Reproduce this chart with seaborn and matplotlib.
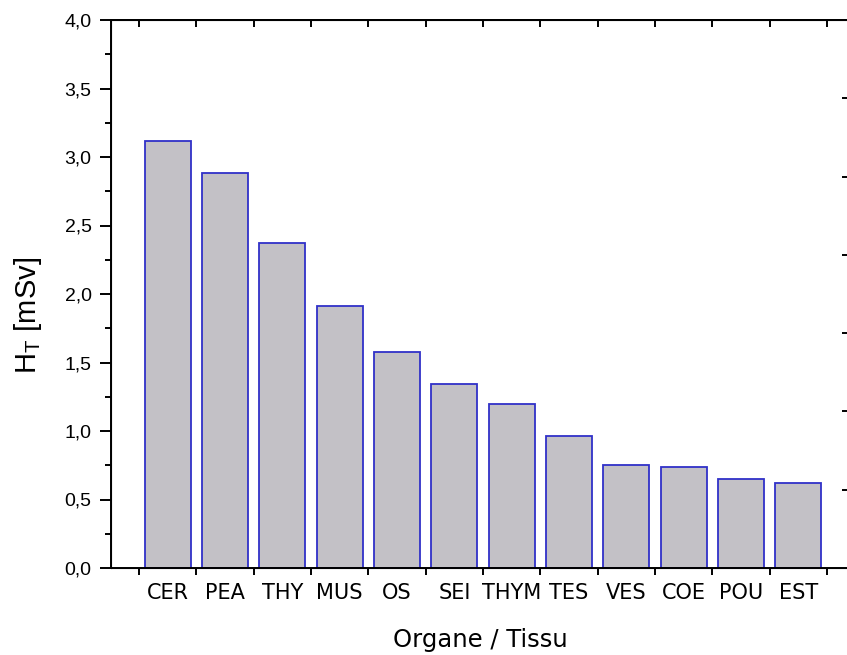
import matplotlib
matplotlib.use("Agg")
import matplotlib.pyplot as plt
import seaborn as sns
import pandas as pd
from matplotlib.ticker import FixedLocator, FuncFormatter

# Equivalent dose per organ / tissue
organs = ["CER", "PEA", "THY", "MUS", "OS", "SEI", "THYM", "TES", "VES", "COE", "POU", "EST"]
dose_msv = [3.12, 2.88, 2.37, 1.91, 1.58, 1.34, 1.20, 0.96, 0.75, 0.74, 0.65, 0.62]

df = pd.DataFrame({"organe": organs, "dose": dose_msv})

sns.set_style("ticks")
plt.rcParams["font.family"] = ["DejaVu Sans"]
plt.rcParams.update({
    "text.color": "black",
    "axes.labelcolor": "black",
    "xtick.color": "black",
    "ytick.color": "black",
    "axes.edgecolor": "black",
})

fig = plt.figure(figsize=(8.47, 6.55), dpi=100)
ax = fig.add_axes([111 / 847, 1 - 568 / 655, (849 - 111) / 847, (568 - 20) / 655])

sns.barplot(data=df, x="organe", y="dose", ax=ax, color="#C3C1C6",
            saturation=1, width=0.8, edgecolor="#3030C8", linewidth=1.3)

n = len(organs)
edges = [i - 0.5 for i in range(n + 1)]
ax.set_xlim(-0.99, n - 0.5 + 22 / 57.33)
ax.set_ylim(0, 4.0)

for sp in ax.spines.values():
    sp.set_visible(True)
    sp.set_linewidth(1.4)
    sp.set_color("black")

# x axis: labels at category centres, tick marks at category boundaries
ax.set_xticks(range(n))
ax.set_xticklabels(organs, fontsize=15, family="DejaVu Sans", color="black")
ax.xaxis.set_minor_locator(FixedLocator(edges))
ax.tick_params(axis="x", which="major", length=0, pad=10.5)
ax.tick_params(axis="x", which="minor", length=5, width=1.4, direction="out", top=False)

# y axis
ax.set_yticks([i * 0.5 for i in range(9)])
ax.yaxis.set_major_formatter(FuncFormatter(lambda v, p: f"{v:.1f}".replace(".", ",")))
ax.yaxis.set_minor_locator(FixedLocator([0.25 + i * 0.5 for i in range(8)]))
ax.tick_params(axis="y", which="major", length=8, width=1.4, direction="out", pad=6)
ax.tick_params(axis="y", which="minor", length=4.3, width=1.4, direction="out")
for lab in ax.get_yticklabels():
    lab.set_family("Liberation Sans")
    lab.set_fontsize(14)
    lab.set_color("black")

ax.set_xlabel("Organe / Tissu", fontsize=17.5, labelpad=18, color="black")
ax.set_ylabel(r"H$_\mathregular{T}$ [mSv]", fontsize=21, family="Liberation Sans", color="black")
ax.yaxis.set_label_coords(-0.091, 0.46)

# inward ticks on top edge
top = ax.secondary_xaxis("top")
top.set_xticks(edges)
top.set_xticklabels([])
top.tick_params(axis="x", length=5, width=1.4, direction="in", color="black")
top.spines["top"].set_linewidth(1.4)

# inward ticks on right edge
right = ax.twinx()
right.set_ylim(0, 7)
right.set_yticks(range(1, 7))
right.set_yticklabels([])
right.tick_params(axis="y", length=5, width=1.4, direction="in", color="black")

fig.savefig("out.png", dpi=100)
